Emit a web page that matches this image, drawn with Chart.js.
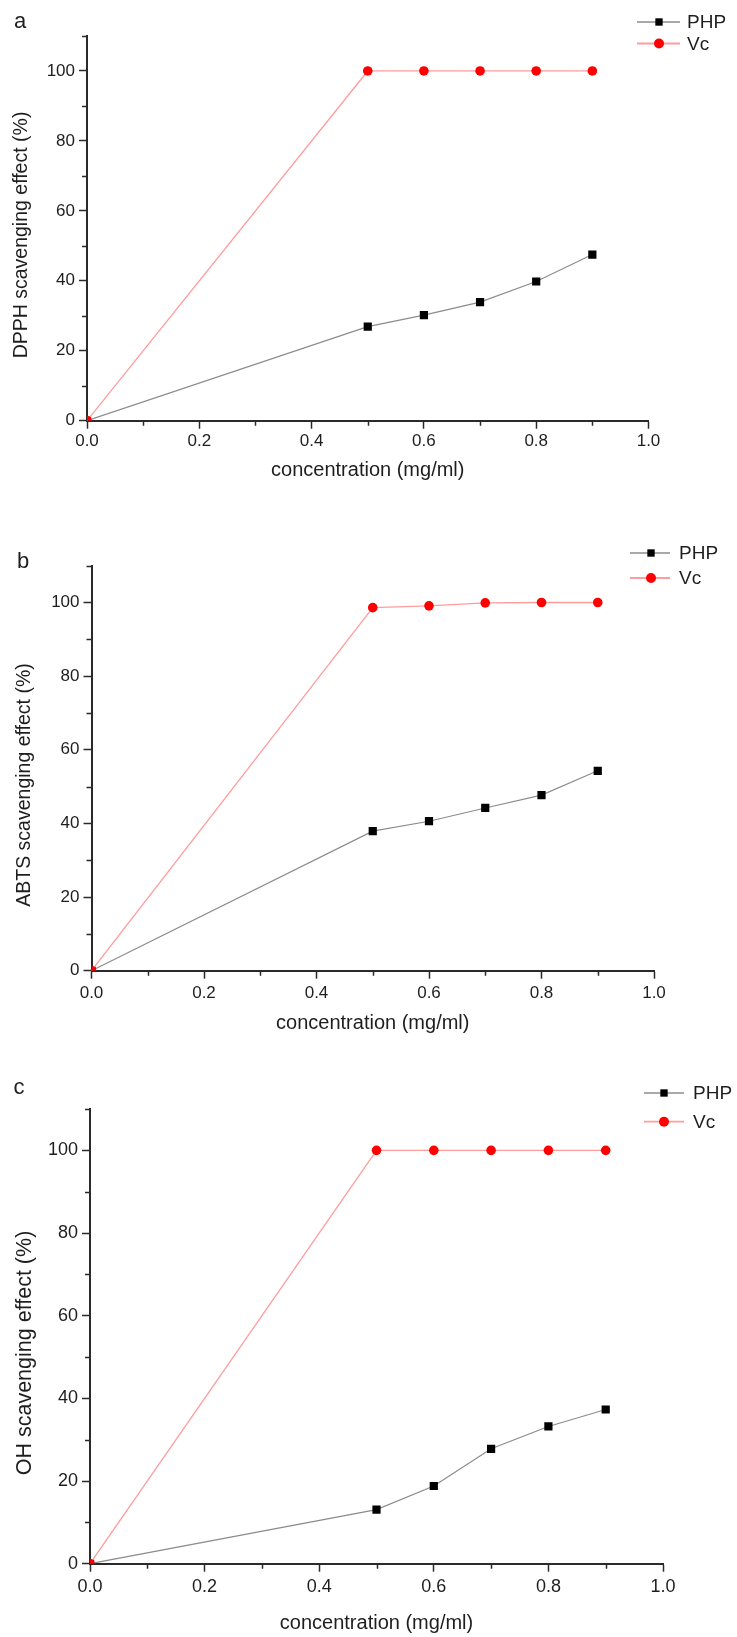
<!DOCTYPE html>
<html><head><meta charset="utf-8">
<script src="https://cdn.jsdelivr.net/npm/chart.js@4.4.1/dist/chart.umd.min.js"></script>
<style>
html,body{margin:0;padding:0;background:#fff;}
body{width:737px;height:1637px;position:relative;overflow:hidden;}
canvas{position:absolute;left:0;}
</style></head><body>
<canvas id="ca" width="737" height="500" style="top:0px"></canvas>
<canvas id="cb" width="737" height="540" style="top:500px"></canvas>
<canvas id="cc" width="737" height="597" style="top:1040px"></canvas>
<script>
// ---- data ----
const concentration = [0, 0.5, 0.6, 0.7, 0.8, 0.9];
const dpphPHP = [0, 26.9, 30.2, 33.9, 39.8, 47.5];
const dpphVc  = [0, 100, 100, 100, 100, 100];
const abtsPHP = [0, 37.9, 40.6, 44.2, 47.7, 54.3];
const abtsVc  = [0, 98.6, 99.1, 99.9, 100, 100];
const ohPHP   = [0, 13.1, 18.8, 27.8, 33.2, 37.3];
const ohVc    = [0, 100, 100, 100, 100, 100];
const seriesNames = ['PHP', 'Vc'];
const panelLetters = ['a', 'b', 'c'];
const yTitles = ['DPPH scavenging effect (%)', 'ABTS scavenging effect (%)', 'OH scavenging effect (%)'];
const xTitle = 'concentration (mg/ml)';
const xTickValues = [0, 0.2, 0.4, 0.6, 0.8, 1.0];
const xTickLabels = ['0.0', '0.2', '0.4', '0.6', '0.8', '1.0'];
const xMinorTicks = [0.1, 0.3, 0.5, 0.7, 0.9];
const yTickValues = [0, 20, 40, 60, 80, 100];
const yTickLabels = ['0', '20', '40', '60', '80', '100'];
const yMinorTicks = [10, 30, 50, 70, 90, 110];
const xRange = [0, 1];
const yRange = [0, 110];

// ---- layout / style ----
const FONT = '"Liberation Sans", Arial, Helvetica, sans-serif';
const TXT = '#1e1e1e';
const AX = '#2a2a2a';
const PHP_LINE = '#8c8c8c', PHP_MARK = '#000000';
const VC_LINE = '#ff9c9c', VC_MARK = '#ff0000';

const panels = [
  {id:'ca', php:dpphPHP, vc:dpphVc, top:36, left:87, right:88.5, xH:79.3, tickFont:17, yTitleFont:19.5, yTitlePos:{x:22, y:235}, xTitlePad:18, xLabPad:2,
   letter:{x:20, y:22}, legend:{x1:637, x2:680, xm:659, xt:687, y:[22, 43.5]}},
  {id:'cb', php:abtsPHP, vc:abtsVc, top:65.7, left:91.5, right:83, xH:69.3, tickFont:17, yTitleFont:19.5, yTitlePos:{x:25, y:285}, xTitlePad:5, xLabPad:4,
   letter:{x:23, y:62}, legend:{x1:630, x2:670, xm:651, xt:679, y:[53, 78]}},
  {id:'cc', php:ohPHP, vc:ohVc, top:69, left:90, right:74, xH:73.3, tickFont:18, yTitleFont:21.5, yTitlePos:{x:25, y:313}, xTitlePad:2, xLabPad:5,
   letter:{x:19, y:48}, legend:{x1:644, x2:684, xm:664, xt:693, y:[53, 81.7]}}
];

function drawMarker(ctx, style, x, y, r, color) {
  ctx.save();
  ctx.fillStyle = color;
  ctx.beginPath();
  if (style === 'rect') {
    const s = r * Math.SQRT1_2;
    ctx.rect(x - s, y - s, 2 * s, 2 * s);
  } else {
    ctx.arc(x, y, r, 0, Math.PI * 2);
  }
  ctx.fill();
  ctx.restore();
}

const decor = {
  id: 'decor',
  afterDraw(chart, args, opts) {
    const ctx = chart.ctx;
    const {left, bottom} = chart.chartArea;
    const xs = chart.scales.x, ys = chart.scales.y;
    ctx.save();
    ctx.strokeStyle = AX;
    ctx.lineWidth = 1.5;
    ctx.beginPath();
    xMinorTicks.forEach(v => {
      const px = Math.round(xs.getPixelForValue(v)) + 0.5;
      ctx.moveTo(px, bottom); ctx.lineTo(px, bottom + 5);
    });
    yMinorTicks.forEach(v => {
      const py = Math.round(ys.getPixelForValue(v)) + 0.5;
      ctx.moveTo(left, py); ctx.lineTo(left - 5, py);
    });
    ctx.stroke();
    // y-axis title
    ctx.save();
    ctx.translate(opts.yTitle.x, opts.yTitle.y);
    ctx.rotate(-Math.PI / 2);
    ctx.fillStyle = TXT;
    ctx.font = opts.yTitle.size + 'px ' + FONT;
    ctx.textAlign = 'center';
    ctx.textBaseline = 'middle';
    ctx.fillText(opts.yTitle.text, 0, 0);
    ctx.restore();
    // legend
    const lg = opts.legend;
    chart.data.datasets.forEach((ds, i) => {
      const y = lg.y[i];
      ctx.strokeStyle = ds.borderColor;
      ctx.lineWidth = ds.legendLineWidth || 1.5;
      ctx.beginPath(); ctx.moveTo(lg.x1, y); ctx.lineTo(lg.x2, y); ctx.stroke();
      drawMarker(ctx, ds.pointStyle, lg.xm, y, ds.pointStyle === 'rect' ? 5.2 : 5, ds.pointBackgroundColor);
      ctx.fillStyle = TXT;
      ctx.font = '19px ' + FONT;
      ctx.textBaseline = 'middle';
      ctx.textAlign = 'left';
      ctx.fillText(ds.label, lg.xt, y + 1);
    });
    // panel letter
    ctx.fillStyle = TXT;
    ctx.font = '22px ' + FONT;
    ctx.textAlign = 'center';
    ctx.textBaseline = 'middle';
    ctx.fillText(opts.letter.t, opts.letter.x, opts.letter.y);
    ctx.restore();
  }
};

panels.forEach((p, k) => {
  new Chart(document.getElementById(p.id), {
    type: 'line',
    data: {
      labels: concentration,
      datasets: [
        {label: seriesNames[0], data: concentration.map((x, i) => ({x, y: p.php[i]})),
         borderColor: PHP_LINE, borderWidth: 1.2, pointStyle: 'rect', pointRadius: 5.8,
         pointBackgroundColor: PHP_MARK, pointBorderColor: PHP_MARK, pointBorderWidth: 0,
         order: 1, tension: 0, legendLineWidth: 1.3},
        {label: seriesNames[1], data: concentration.map((x, i) => ({x, y: p.vc[i]})),
         borderColor: VC_LINE, borderWidth: 1.3, pointStyle: 'circle', pointRadius: 4.8,
         pointBackgroundColor: VC_MARK, pointBorderColor: VC_MARK, pointBorderWidth: 0,
         order: 0, tension: 0, legendLineWidth: 1.8}
      ]
    },
    options: {
      responsive: false,
      animation: false,
      events: [],
      layout: {padding: {top: p.top, right: p.right, left: 0, bottom: 0}},
      plugins: {
        legend: {display: false},
        tooltip: {enabled: false},
        decor: {legend: p.legend, letter: {t: panelLetters[k], x: p.letter.x, y: p.letter.y},
                yTitle: {text: yTitles[k], x: p.yTitlePos.x, y: p.yTitlePos.y, size: p.yTitleFont}}
      },
      scales: {
        x: {
          type: 'linear', min: xRange[0], max: xRange[1],
          afterBuildTicks: s => { s.ticks = xTickValues.map(v => ({value: v})); },
          afterFit: s => { s.height = p.xH; },
          ticks: {callback: (v, i) => xTickLabels[i], color: TXT, font: {family: FONT, size: p.tickFont}, padding: p.xLabPad, maxRotation: 0, autoSkip: false},
          grid: {display: true, drawOnChartArea: false, drawTicks: true, tickLength: 8, tickWidth: 1.5, tickColor: AX},
          border: {display: true, color: AX, width: 2},
          title: {display: true, text: xTitle, color: TXT, font: {family: FONT, size: 20}, padding: {top: 0, bottom: p.xTitlePad}}
        },
        y: {
          type: 'linear', min: yRange[0], max: yRange[1],
          afterBuildTicks: s => { s.ticks = yTickValues.map(v => ({value: v})); },
          afterFit: s => { s.width = p.left; },
          ticks: {callback: (v, i) => yTickLabels[i], color: TXT, font: {family: FONT, size: p.tickFont}, padding: 4, autoSkip: false},
          grid: {display: true, drawOnChartArea: false, drawTicks: true, tickLength: 8, tickWidth: 1.5, tickColor: AX},
          border: {display: true, color: AX, width: 2},
          title: {display: false}
        }
      }
    },
    plugins: [decor]
  });
});
</script>
</body></html>
